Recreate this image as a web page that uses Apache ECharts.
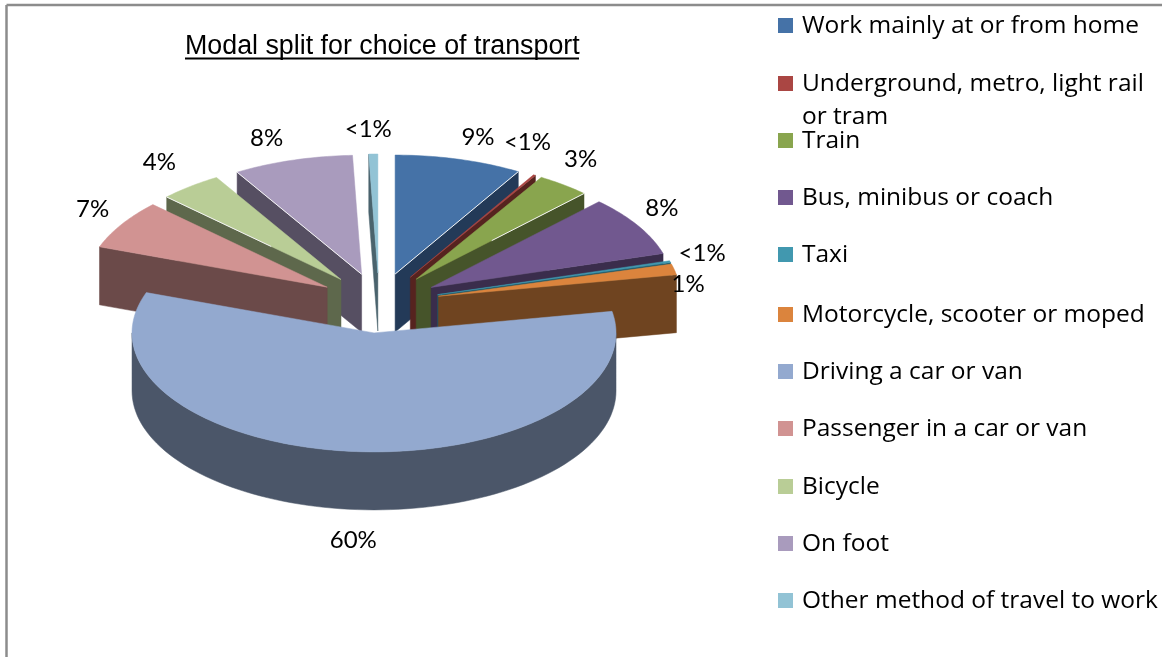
<!DOCTYPE html>
<html><head><meta charset="utf-8">
<style>html,body{margin:0;padding:0;background:#fff}#c{width:1162px;height:657px}</style>
<script src="https://cdn.jsdelivr.net/npm/echarts@6/dist/echarts.min.js"></script>
</head><body><div id="c"></div>
<script>
const categories = ['Work mainly at or from home','Underground, metro, light rail\nor tram','Train','Bus, minibus or coach','Taxi','Motorcycle, scooter or moped','Driving a car or van','Passenger in a car or van','Bicycle','On foot','Other method of travel to work'];
const shareValues = [8.5,0.15,3.55,8.2,0.25,1.45,58.4,6.7,4.2,8.0,0.6];
const shareLabels = ['9%','<1%','3%','8%','<1%','1%','60%','7%','4%','8%','<1%'];
const topColors = ['#4572A7','#AA4643','#89A54E','#71588F','#4198AF','#DB843D','#93A9CF','#D19392','#B9CD96','#A99BBD','#92C3D5'];
const wallColors = ['#233A58','#56231F','#46542A','#3A2D4C','#215866','#6F4420','#4B5669','#6B4A49','#5E684C','#564F62','#4A636D'];
const drawRank = [11,12,13,14,15,16,30,7,6,5,4];
const labelNudge = [[19,-22],[-7,-33],[17,-26],[24,-17],[32,-8],[14,15],[-1,31],[-29,-15],[-31,-24],[-26,-22],[-5,-25]];
const edgeGlint = [1,0,0.55,0,0,0,0,0,0.6,1,0];
const legendMarkerTops = [18,76,133,190,247,307,364,421,479,536,593];
const P = {cx:379, cy:303, rx:242, ry:119, depth:58, explode:61};
const total = shareValues.reduce((a,b)=>a+b,0);
const cum = []; shareValues.reduce((a,v,i)=>{cum[i]=a;return a+v},0);
const rad = d=>d*Math.PI/180;

function pt(ax,ay,t,dz){return [ax+P.rx*Math.sin(t), ay-P.ry*Math.cos(t)+(dz||0)];}
function renderItem(params, api){
  const i = params.dataIndex, v = api.value(0);
  const a0 = cum[i]/total*2*Math.PI, a1 = (cum[i]+v)/total*2*Math.PI, m=(a0+a1)/2;
  const ax = P.cx+P.explode*Math.sin(m), ay = P.cy-P.explode*(P.ry/P.rx)*Math.cos(m);
  const z = drawRank[i], D = P.depth, kids=[];
  const poly=(points,fill,zz)=>kids.push({type:'polygon',shape:{points},style:{fill,stroke:fill,lineWidth:0.5},z2:zz});
  // cut faces
  if(Math.sin(a0)<-1e-6) poly([[ax,ay],pt(ax,ay,a0),pt(ax,ay,a0,D),[ax,ay+D]],wallColors[i],z);
  if(Math.sin(a1)>1e-6 && a1<Math.PI) poly([[ax,ay],pt(ax,ay,a1),pt(ax,ay,a1,D),[ax,ay+D]],wallColors[i],z);
  // rim, only where it faces the viewer
  const b0=Math.max(a0,Math.PI/2), b1=Math.min(a1,1.5*Math.PI);
  if(b1>b0){const up=[],dn=[];for(let k=0;k<=90;k++){const t=b0+(b1-b0)*k/90;up.push(pt(ax,ay,t));dn.unshift(pt(ax,ay,t,D));}
    poly(up.concat(dn),wallColors[i],z);}
  // top
  const n=Math.max(4,Math.ceil((a1-a0)/rad(1))), top=[[ax,ay]];
  for(let k=0;k<=n;k++)top.push(pt(ax,ay,a0+(a1-a0)*k/n));
  poly(top,topColors[i],z+0.5);
  if(edgeGlint[i]){const e=Math.sin(m)>0?a1:a0, c=pt(ax,ay,e), f=edgeGlint[i];
    kids.push({type:'line',shape:{x1:c[0],y1:c[1],x2:c[0]+(ax-c[0])*f,y2:c[1]+(ay-c[1])*f},style:{stroke:'#f4f4f4',lineWidth:1},z2:z+0.6});}
  // label
  const lx=P.cx+(P.explode+P.rx)*Math.sin(m)+labelNudge[i][0];
  const ly=P.cy-(P.explode*(P.ry/P.rx)+P.ry)*Math.cos(m)+(Math.cos(m)<0?D:0)+labelNudge[i][1];
  kids.push({type:'text',style:{text:shareLabels[i],x:lx,y:ly,align:'center',verticalAlign:'middle',font:'24px Lato',fill:'#000'},z2:50});
  return {type:'group',children:kids};
}

const legendGraphics = categories.flatMap((name,i)=>[
  {type:'rect',left:778,top:legendMarkerTops[i],shape:{width:15,height:15},style:{fill:topColors[i]}},
  {type:'text',left:802,top:legendMarkerTops[i]-8,style:{text:name,font:'24.5px "Open Sans"',lineHeight:33,fill:'#000'}}
]);
const chart = echarts.init(document.getElementById('c'),null,{renderer:'canvas'});
chart.setOption({
  animation:false,
  backgroundColor:'#fff',
  title:{text:'Modal split for choice of transport',left:185,top:33,padding:0,textStyle:{fontFamily:'Liberation Sans',fontSize:26.8,fontWeight:'normal',color:'#000'}},
  graphic:[
    {type:'line',shape:{x1:6.5,y1:5,x2:1162,y2:5},style:{stroke:'#8c8c8c',lineWidth:2.5}},
    {type:'line',shape:{x1:6.5,y1:5,x2:6.5,y2:657},style:{stroke:'#8c8c8c',lineWidth:2.5}},
    {type:'line',shape:{x1:185,y1:58.5,x2:579,y2:58.5},style:{stroke:'#000',lineWidth:2}},
    ...legendGraphics
  ],
  series:[{type:'custom',coordinateSystem:'none',silent:true,renderItem,
    data:categories.map((name,i)=>({name:name.replace('\n',' '),value:[shareValues[i]]}))}]
});
</script></body></html>
